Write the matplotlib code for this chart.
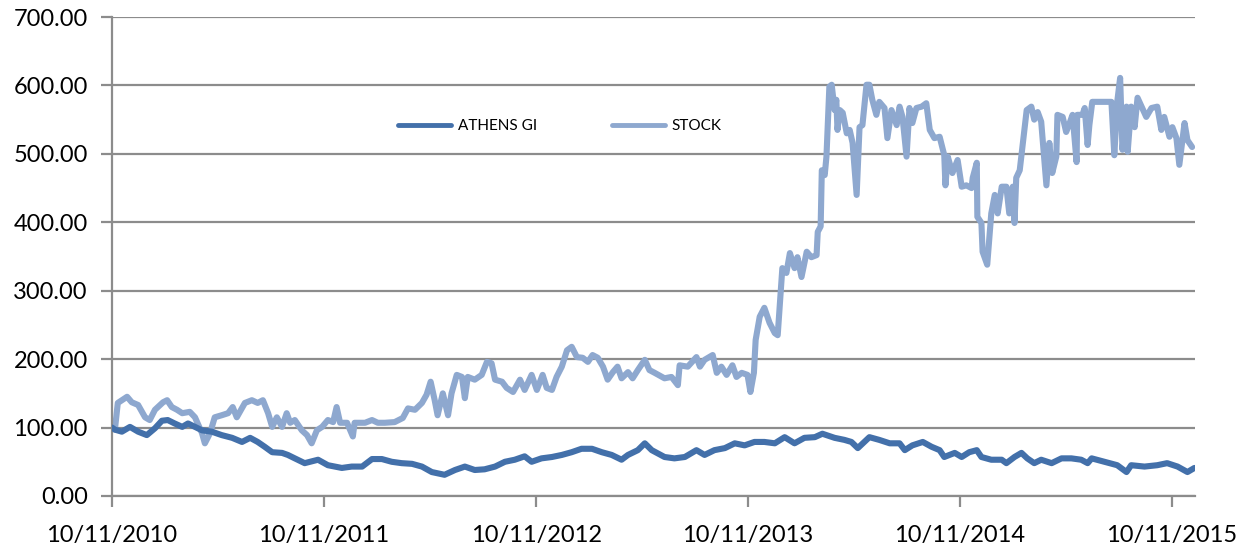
import matplotlib
matplotlib.use("Agg")
import matplotlib.pyplot as plt
import numpy as np
import pandas as pd

# ---------------- data ----------------
start_date = "2010-11-10"
tick_labels = ["10/11/2010", "10/11/2011", "10/11/2012", "10/11/2013", "10/11/2014", "10/11/2015"]
tick_dates = ["2010-11-10", "2011-11-10", "2012-11-10", "2013-11-10", "2014-11-10", "2015-11-10"]
y_ticks = [0, 100, 200, 300, 400, 500, 600, 700]

# STOCK: days since start, value
stock_days = [0, 5, 10, 26, 34, 45, 57, 65, 74, 88, 95, 103, 112, 121, 134, 143, 155, 160, 169, 177,
              189, 200, 208, 215, 229, 241, 251, 260, 269, 276, 284, 293, 301, 307, 315, 327, 336, 344,
              353, 362, 372, 381, 387, 393, 405, 415, 418, 436, 448, 458, 470, 487, 501, 510, 522, 534,
              542, 549, 556, 561, 570, 579, 585, 594, 603, 608, 613, 625, 637, 646, 654, 660, 672, 680,
              691, 703, 711, 723, 732, 742, 749, 758, 766, 775, 784, 792, 801, 811, 820, 828, 837, 846,
              854, 863, 871, 878, 889, 897, 906, 918, 926, 935, 952, 964, 975, 978, 992, 1007, 1013,
              1021, 1035, 1042, 1050, 1059, 1069, 1076, 1085, 1095, 1100, 1106, 1109, 1116, 1124, 1133,
              1142, 1147, 1150, 1155, 1162, 1168, 1176, 1181, 1188, 1197, 1205, 1214, 1216, 1221, 1223,
              1228, 1231, 1236, 1240, 1245, 1248, 1250, 1254, 1259, 1266, 1271, 1276, 1283, 1288, 1293,
              1300, 1305, 1310, 1317, 1322, 1331, 1336, 1343, 1352, 1357, 1362, 1369, 1374, 1379, 1386,
              1395, 1403, 1409, 1417, 1426, 1434, 1436, 1440, 1448, 1457, 1464, 1472, 1481, 1483, 1490,
              1491, 1498, 1500, 1508, 1515, 1521, 1526, 1533, 1541, 1546, 1552, 1555, 1558, 1564, 1569,
              1576, 1584, 1589, 1595, 1601, 1610, 1615, 1620, 1627, 1629, 1638, 1644, 1650, 1655, 1662,
              1663, 1672, 1676, 1681, 1684, 1689, 1722, 1727, 1732, 1737, 1741, 1748, 1750, 1756, 1762,
              1767, 1774, 1782, 1791, 1801, 1808, 1813, 1822, 1827, 1834, 1839, 1848, 1853, 1861]
stock_vals = [100, 97, 136, 145, 137, 133, 115, 111, 126, 137, 140, 130, 126, 121, 123, 115, 92, 77, 92, 115,
              118, 121, 130, 115, 136, 140, 136, 140, 121, 101, 115, 101, 121, 107, 111, 96, 89, 77,
              96, 101, 111, 108, 130, 107, 107, 87, 107, 107, 111, 107, 107, 108, 114, 128, 126, 136,
              148, 167, 140, 118, 150, 118, 150, 177, 174, 143, 174, 170, 177, 196, 194, 170, 167, 158,
              152, 170, 155, 177, 155, 177, 158, 155, 174, 189, 213, 218, 203, 202, 196, 206, 202, 189,
              170, 181, 189, 172, 181, 172, 184, 199, 184, 180, 172, 174, 162, 191, 189, 203, 189,
              199, 206, 180, 189, 177, 191, 174, 180, 177, 152, 180, 228, 262, 275, 253,
              238, 235, 272, 333, 326, 355, 333, 349, 320, 357, 349, 352, 386, 394, 476,
              469, 496, 598, 601, 564, 579, 535, 564, 560, 530, 535, 516, 440, 539, 542,
              601, 601, 579, 557, 576, 567, 523, 564, 542, 569, 554, 496, 567, 545, 567,
              569, 574, 535, 523, 525, 498, 454, 496, 472, 491, 452, 454, 450, 465, 487,
              408, 399, 357, 338, 413, 440, 413, 452, 452, 413, 452, 399, 465, 476, 513,
              564, 569, 550, 561, 547, 454, 516, 472, 496, 557, 554, 532, 545, 557, 488,
              557, 557, 567, 513, 542, 576, 576, 498, 576, 611, 506, 569, 503, 569, 539,
              582, 569, 554, 567, 569, 535, 554, 525, 539, 523, 484, 545, 520, 510]

# ATHENS GI: days since start, value
athens_days = [0, 5, 17, 31, 45, 60, 74, 86, 96, 108, 121, 131, 143, 155, 172, 189, 207, 224, 238, 251,
               263, 276, 293, 303, 315, 332, 355, 372, 396, 413, 431, 448, 465, 482, 499, 517, 534, 551,
               573, 591, 608, 625, 642, 660, 677, 694, 711, 723, 740, 758, 775, 792, 809, 827, 844, 861,
               878, 889, 906, 918, 930, 952, 969, 987, 1007, 1021, 1038, 1056, 1073, 1090, 1107, 1124,
               1142, 1159, 1176, 1193, 1211, 1224, 1245, 1262, 1274, 1285, 1305, 1322, 1340, 1357, 1366,
               1379, 1397, 1412, 1426, 1434, 1452, 1464, 1477, 1490, 1498, 1515, 1533, 1541, 1555, 1567,
               1577, 1589, 1601, 1619, 1636, 1653, 1670, 1681, 1688, 1710, 1732, 1748, 1756, 1779, 1801,
               1818, 1836, 1853, 1865]
athens_vals = [100, 97, 94, 101, 94, 89, 99, 110, 111, 106, 101, 106, 101, 96, 94, 89, 85, 79, 85, 79,
               72, 64, 63, 60, 55, 48, 53, 45, 41, 43, 43, 54, 54, 50, 48, 47, 43, 35,
               31, 38, 43, 38, 39, 43, 50, 53, 58, 50, 55, 57, 60, 64, 69, 69, 64, 60,
               53, 60, 67, 77, 67, 57, 55, 57, 67, 60, 67, 70, 77, 74, 79, 79,
               77, 86, 77, 85, 86, 91, 85, 82, 79, 70, 86, 82, 77, 77, 67,
               74, 79, 72, 67, 57, 63, 57, 64, 67, 57, 53, 53, 48, 57, 63,
               55, 48, 53, 48, 55, 55, 53, 48, 55, 50, 45, 35, 45, 43, 45,
               48, 43, 35, 41]

series_names = ["ATHENS GI", "STOCK"]
colors = ["#4370AA", "#8EA8CF"]

# ---------------- plot ----------------
plt.rcParams["font.family"] = ["Lato", "DejaVu Sans"]

t0 = pd.Timestamp(start_date)
athens_x = t0 + pd.to_timedelta(athens_days, unit="D")
stock_x = t0 + pd.to_timedelta(stock_days, unit="D")

fig = plt.figure(figsize=(12.42, 5.5), dpi=100)
ax = fig.add_axes([112 / 1242, 1 - 496 / 550, (1195 - 112) / 1242, (496 - 17) / 550])

grid_c = "#8C8C8C"
ax.set_axisbelow(True)
ax.yaxis.grid(True, color=grid_c, linewidth=1.6)
ax.xaxis.grid(False)

l1, = ax.plot(athens_x, athens_vals, color=colors[0], linewidth=4.4, solid_joinstyle="round",
              solid_capstyle="round", label=series_names[0])
l2, = ax.plot(stock_x, stock_vals, color=colors[1], linewidth=4.4, solid_joinstyle="round",
              solid_capstyle="round", label=series_names[1])
l1.set_zorder(3)
l2.set_zorder(2)

ax.set_ylim(0, 700)
ax.set_yticks(y_ticks)
ax.set_yticklabels([f"{v:.2f}" for v in y_ticks])
ax.set_xlim(t0, t0 + pd.Timedelta(days=1866))
ax.set_xticks([pd.Timestamp(d) for d in tick_dates])
ax.set_xticklabels(tick_labels)

for s in ["top", "right"]:
    ax.spines[s].set_visible(False)
for s in ["left", "bottom"]:
    ax.spines[s].set_color(grid_c)
    ax.spines[s].set_linewidth(1.6)

ax.tick_params(axis="both", which="major", direction="out", length=8, width=1.6,
               color=grid_c, labelsize=17, labelcolor="#000000")
ax.tick_params(axis="y", pad=9.5)
ax.tick_params(axis="x", pad=13)

leg = ax.legend(handles=[l1, l2], loc="center left", ncol=2, frameon=False,
                bbox_to_anchor=(398 / 1242, 1 - 126 / 550), bbox_transform=fig.transFigure,
                fontsize=11, handlelength=3.5, handletextpad=0.4, columnspacing=4.9,
                borderpad=0, borderaxespad=0)
for h in leg.get_lines():
    h.set_linewidth(3.5)

fig.savefig("out.png", dpi=100)
